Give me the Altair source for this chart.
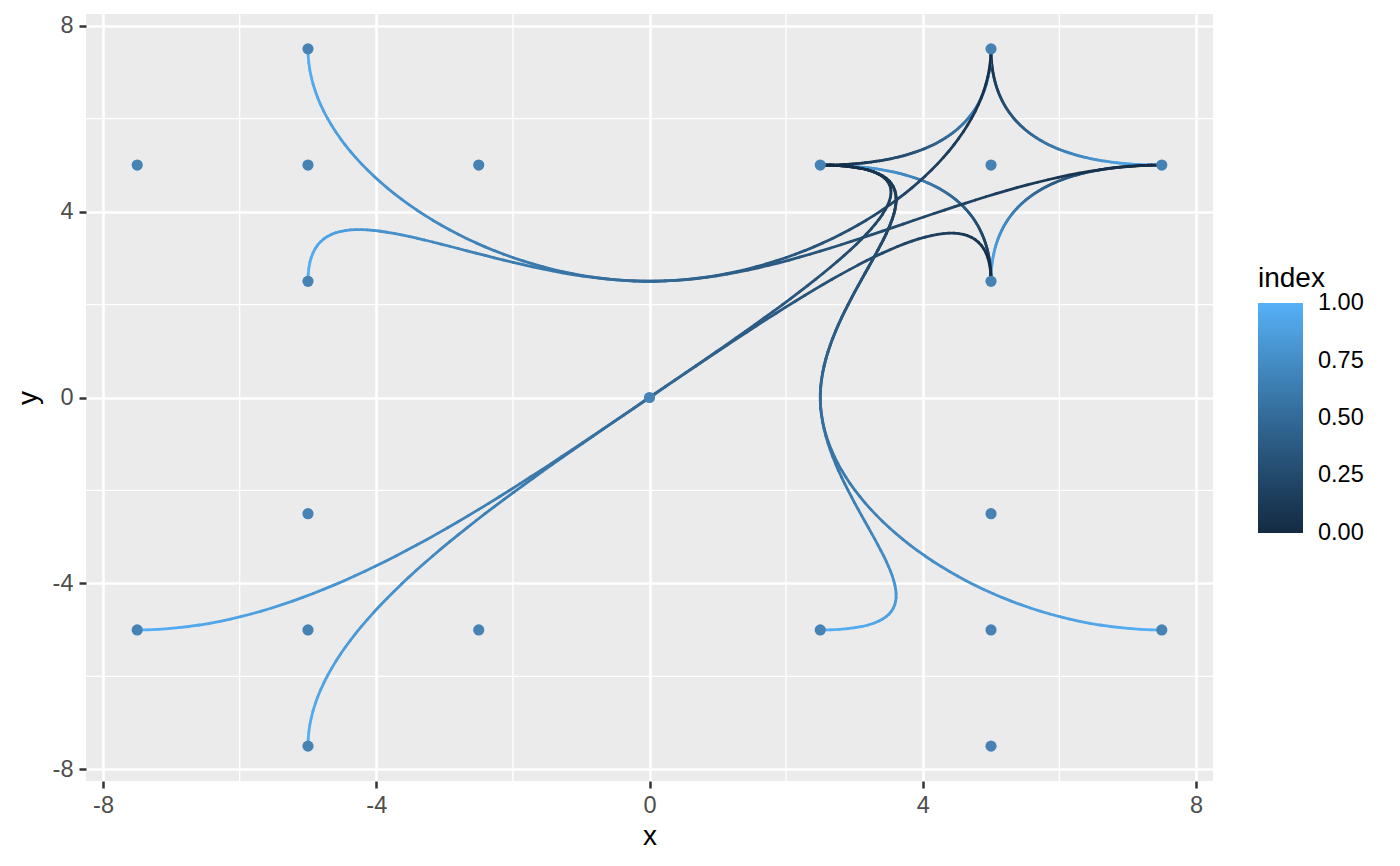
import numpy as np
import pandas as pd
import altair as alt

# Control points (ggforce geom_bspline example)
cp_x = [0, -5, -5, 5, 5, 2.5, 5, 7.5, 5, 2.5, 5, 7.5, 5, -2.5, -5, -7.5, -5,
        -2.5, -5, -7.5, -5]
cp_y = [0, -5, 5, -5, 5, 5, 7.5, 5, 2.5, -5, -7.5, -5, -2.5, 5, 7.5, 5, 2.5,
        -5, -7.5, -5, -2.5]

# Paths between control points (1-based indices) and their groups
path_ind = [7, 5, 8, 8, 5, 9, 9, 5, 6, 6, 5, 7,
            7, 5, 1, 3, 15, 8, 5, 1, 3, 17, 9, 5, 1, 2, 19,
            6, 5, 1, 4, 12, 6, 5, 1, 4, 10, 6, 5, 1, 2, 20]
path_group = [1, 1, 1, 2, 2, 2, 3, 3, 3, 4, 4, 4,
              5, 5, 5, 5, 5, 6, 6, 6, 6, 6, 7, 7, 7, 7, 7,
              8, 8, 8, 8, 8, 9, 9, 9, 9, 9, 10, 10, 10, 10, 10]

x_ticks = [-8, -4, 0, 4, 8]
y_ticks = [-8, -4, 0, 4, 8]
minor_breaks = [-6, -2, 2, 6]
legend_values = [0, 0.25, 0.5, 0.75, 1]
N_POINTS = 100
DEGREE = 3


def basis(i, k, u, t):
    if k == 0:
        if t[i] <= u < t[i + 1]:
            return 1.0
        if u == t[-1] and t[i] < t[i + 1] == t[-1]:
            return 1.0
        return 0.0
    a = 0.0
    if t[i + k] != t[i]:
        a = (u - t[i]) / (t[i + k] - t[i]) * basis(i, k - 1, u, t)
    b = 0.0
    if t[i + k + 1] != t[i + 1]:
        b = (t[i + k + 1] - u) / (t[i + k + 1] - t[i + 1]) * basis(i + 1, k - 1, u, t)
    return a + b


def clamped_bspline(px, py, degree, n):
    m = len(px)
    d = min(degree, m - 1)
    knots = [0.0] * d + list(np.linspace(0, 1, m - d + 1)) + [1.0] * d
    us = np.linspace(0, 1, n)
    xs, ys = [], []
    for u in us:
        w = [basis(i, d, u, knots) for i in range(m)]
        xs.append(sum(wi * p for wi, p in zip(w, px)))
        ys.append(sum(wi * p for wi, p in zip(w, py)))
    return np.array(xs), np.array(ys), us


segs = []
groups = []
for g, ind in zip(path_group, path_ind):
    if not groups or groups[-1][0] != g:
        groups.append((g, []))
    groups[-1][1].append(ind)

order = 0
for g, inds in groups:
    px = [cp_x[i - 1] for i in inds]
    py = [cp_y[i - 1] for i in inds]
    xs, ys, us = clamped_bspline(px, py, DEGREE, N_POINTS)
    for j in range(len(xs) - 1):
        segs.append(dict(x=xs[j], y=ys[j], x2=xs[j + 1], y2=ys[j + 1],
                         index=us[j], group=g, order=order))
        order += 1

seg_df = pd.DataFrame(segs)
pts_df = pd.DataFrame({"x": cp_x, "y": cp_y})
minor_x_df = pd.DataFrame({"x": minor_breaks})
minor_y_df = pd.DataFrame({"y": minor_breaks})

FONT = "Liberation Sans"
DOM = [-8.25, 8.25]
LABEL_SIZE = 23.5

xscale = alt.Scale(domain=DOM, nice=False, zero=False)
yscale = alt.Scale(domain=DOM, nice=False, zero=False)

x_axis = alt.Axis(values=x_ticks, title="x", grid=True, gridColor="white",
                  gridWidth=2.6, domain=False, tickColor="#333333", tickWidth=2.5,
                  tickSize=7, labelColor="#4D4D4D", labelFontSize=LABEL_SIZE,
                  labelExpr="toString(datum.value)",
                  labelFont=FONT, labelPadding=5, titleFont=FONT, titleFontSize=28,
                  titleFontWeight="normal", titleColor="black",
                  titleBaseline="alphabetic", titleY=63)
y_axis = alt.Axis(values=y_ticks, title="y", grid=True, gridColor="white",
                  gridWidth=2.6, domain=False, tickColor="#333333", tickWidth=2.5,
                  tickSize=7, labelColor="#4D4D4D", labelFontSize=LABEL_SIZE,
                  labelExpr="toString(datum.value)",
                  labelFont=FONT, labelPadding=6, titleFont=FONT, titleFontSize=28,
                  titleFontWeight="normal", titleColor="black",
                  titleBaseline="alphabetic", titleX=-50, titleY=383.5, titleAngle=-90)

minor_x = alt.Chart(minor_x_df).mark_rule(color="white", strokeWidth=1.3).encode(
    x=alt.X("x:Q", scale=xscale, axis=x_axis))
minor_y = alt.Chart(minor_y_df).mark_rule(color="white", strokeWidth=1.3).encode(
    y=alt.Y("y:Q", scale=yscale, axis=y_axis))

curves = alt.Chart(seg_df).mark_rule(strokeWidth=2.8, strokeCap="round").encode(
    x=alt.X("x:Q", scale=xscale, title="x"),
    y=alt.Y("y:Q", scale=yscale, title="y"),
    x2="x2:Q",
    y2="y2:Q",
    color=alt.Color("index:Q",
                    scale=alt.Scale(domain=[-0.002, 1.002],
                                    range=["#132B43", "#56B1F7"],
                                    interpolate="lab"),
                    legend=alt.Legend(title="index", values=legend_values,
                                      format=".2f", orient="none",
                                      legendX=1172, legendY=251,
                                      direction="vertical",
                                      gradientLength=230, gradientThickness=45,
                                      gradientStrokeWidth=0,
                                      titleFont=FONT, titleFontSize=28,
                                      titleFontWeight="normal", titleColor="black",
                                      titlePadding=10, labelOverlap=False,
                                      labelFont=FONT, labelFontSize=LABEL_SIZE,
                                      labelColor="black", labelOffset=15,
                                      labelBaseline="middle")),
    order=alt.Order("order:Q"),
)

points = alt.Chart(pts_df).mark_circle(size=125, color="#4682B4", opacity=1).encode(
    x=alt.X("x:Q", scale=xscale, title="x"),
    y=alt.Y("y:Q", scale=yscale, title="y"),
)

chart = alt.layer(minor_x, minor_y, curves, points).properties(
    width=1127, height=767,
    background="white",
    autosize=alt.AutoSizeParams(type="none"),
    padding={"left": 78, "top": 6, "right": 179, "bottom": 70},
).configure_view(fill="#EBEBEB", stroke=None)

chart.save("out.html", embed_options={"renderer": "svg", "actions": False})
